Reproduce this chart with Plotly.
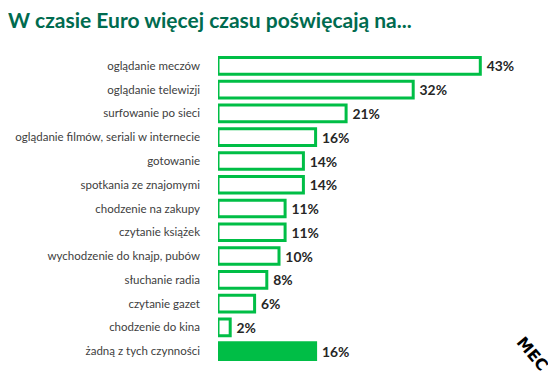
import plotly.graph_objects as go

categories = [
    "oglądanie meczów",
    "oglądanie telewizji",
    "surfowanie po sieci",
    "oglądanie filmów, seriali w internecie",
    "gotowanie",
    "spotkania ze znajomymi",
    "chodzenie na zakupy",
    "czytanie książek",
    "wychodzenie do knajp, pubów",
    "słuchanie radia",
    "czytanie gazet",
    "chodzenie do kina",
    "żadną z tych czynności",
]
values = [43, 32, 21, 16, 14, 14, 11, 11, 10, 8, 6, 2, 16]

GREEN = "#00BE46"
fills = ["white"] * (len(values) - 1) + [GREEN]

fig = go.Figure(
    go.Bar(
        x=values,
        y=categories,
        orientation="h",
        marker=dict(color=fills, line=dict(color=GREEN, width=3)),
        texttemplate="\u00a0%{x}%",
        textposition="outside",
        textfont=dict(family="Lato", size=15, color="#262626", weight="bold"),
        cliponaxis=False,
        hoverinfo="skip",
    )
)

fig.update_layout(
    width=548,
    height=379,
    margin=dict(l=210, r=33, t=46, b=24),
    paper_bgcolor="white",
    plot_bgcolor="white",
    showlegend=False,
    bargap=0.3,
    title=dict(
        text="<b>W czasie Euro więcej czasu poświęcają na...</b>",
        font=dict(family="Lato", size=21, color="#006B4F"),
        xref="container",
        yref="container",
        x=0,
        xanchor="left",
        y=1 - 13 / 379,
        yanchor="middle",
    ),
    xaxis=dict(
        range=[0, 50],
        visible=False,
        fixedrange=True,
        automargin=False,
    ),
    yaxis=dict(
        autorange="reversed",
        showgrid=False,
        zeroline=False,
        showline=False,
        ticks="",
        automargin=False,
        ticklabelstandoff=17,
        tickfont=dict(family="Lato", size=11.5, color="#404040"),
        fixedrange=True,
    ),
    annotations=[
        dict(
            text="<b>MEC</b>",
            x=1.03,
            y=0.03,
            xref="paper",
            yref="paper",
            xanchor="center",
            yanchor="middle",
            showarrow=False,
            textangle=50,
            font=dict(family="DejaVu Sans", size=16, color="#000000"),
        )
    ],
)

fig.write_html("out.html")
